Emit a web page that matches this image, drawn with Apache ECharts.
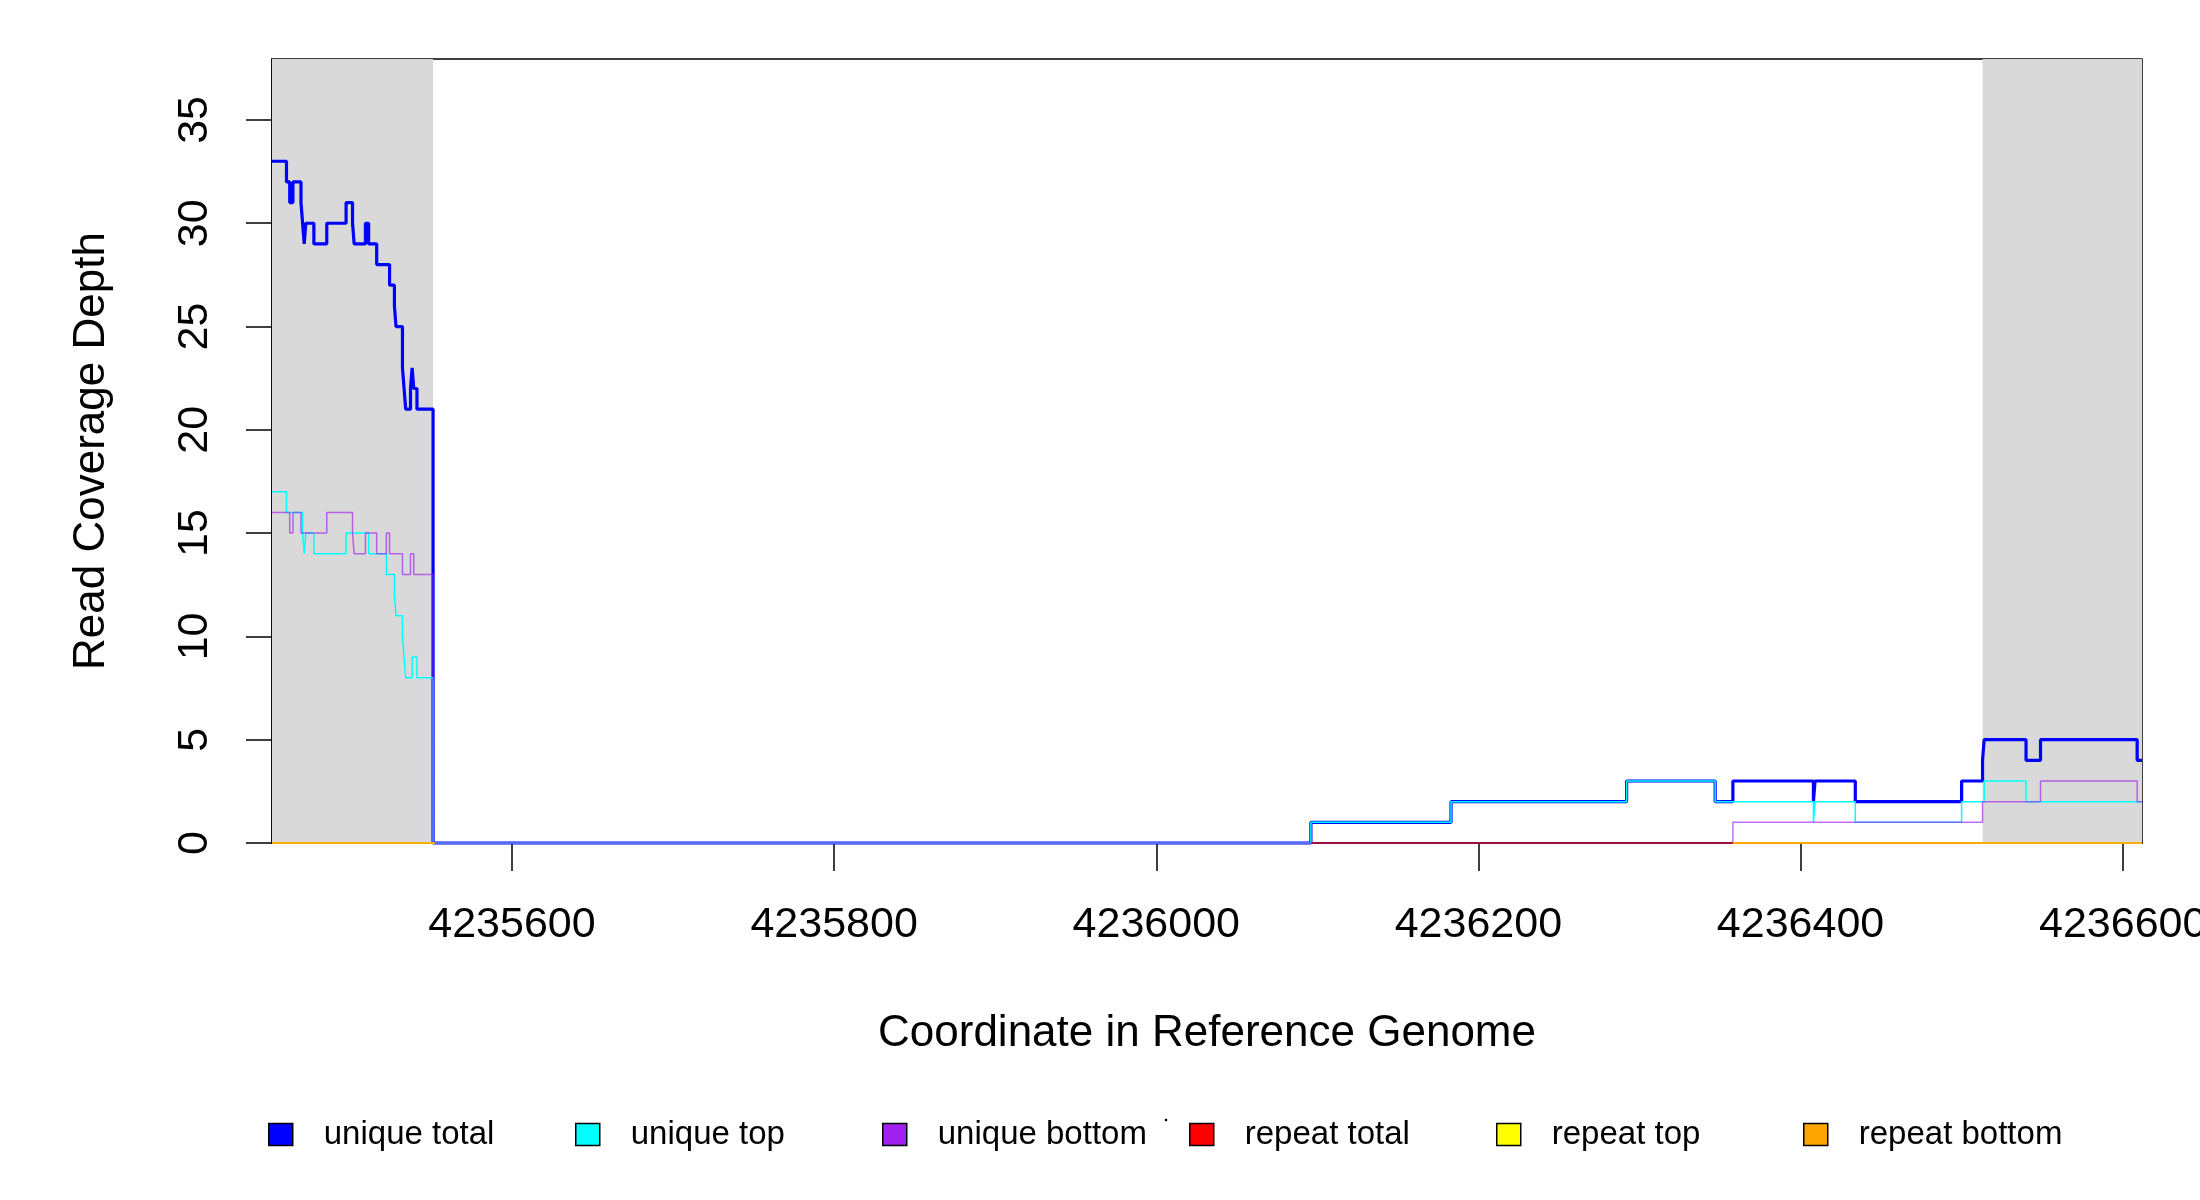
<!DOCTYPE html>
<html>
<head>
<meta charset="utf-8">
<script src="https://cdn.jsdelivr.net/npm/echarts@6/dist/echarts.min.js"></script>
<style>
html, body { margin: 0; padding: 0; background: #fff; }
#chart { width: 2200px; height: 1200px; }
</style>
</head>
<body>
<div id="chart"></div>
<script>
// axis ranges and ticks
var xMin = 4235451;
var xMax = 4236612;
var yMax = 37.95;
var xTicks = [4235600, 4235800, 4236000, 4236200, 4236400, 4236600];
var yTicks = [0, 5, 10, 15, 20, 25, 30, 35];

// shaded flanks
var flankLeft = [4235451, 4235551];
var flankRight = [4236513, 4236612];

// step change points: position where the depth starts, and the depth
var uniqueTotalPos = [4235451, 4235460, 4235462, 4235464, 4235469, 4235470, 4235471, 4235472, 4235477, 4235485,
	4235497, 4235501, 4235502, 4235509, 4235511, 4235516, 4235524, 4235527, 4235528,
	4235532, 4235533, 4235534, 4235537, 4235538, 4235539, 4235541, 4235551, 4236096, 4236183,
	4236292, 4236347, 4236358, 4236408, 4236409, 4236434, 4236500, 4236513, 4236514, 4236540,
	4236549, 4236609, 4236612];
var uniqueTotalVal = [33, 32, 31, 32, 31, 30, 29, 30, 29, 30,
	31, 30, 29, 30, 29, 28, 27, 26, 25,
	23, 22, 21, 22, 23, 22, 21, 0, 1, 2,
	3, 2, 3, 2, 3, 2, 3, 4, 5, 4,
	5, 4, 4];

var uniqueTopPos = [4235451, 4235460, 4235470, 4235471, 4235472, 4235477, 4235497, 4235511, 4235522, 4235527,
	4235528, 4235532, 4235533, 4235534, 4235538, 4235541, 4235551, 4236096, 4236183, 4236292,
	4236347, 4236408, 4236409, 4236434, 4236500, 4236514, 4236540, 4236612];
var uniqueTopVal = [17, 16, 15, 14, 15, 14, 15, 14, 13, 12,
	11, 10, 9, 8, 9, 8, 0, 1, 2, 3,
	2, 1, 2, 1, 2, 3, 2, 2];

var uniqueBottomPos = [4235451, 4235462, 4235464, 4235469, 4235485, 4235501, 4235502, 4235509, 4235516, 4235522,
	4235524, 4235532, 4235537, 4235539, 4235551, 4236358, 4236513, 4236549, 4236609, 4236612];
var uniqueBottomVal = [16, 15, 16, 15, 16, 15, 14, 15, 14, 15,
	14, 13, 14, 13, 0, 1, 2, 3, 2, 2];

// repeat coverage is zero where it is drawn; null marks a gap
var repeatTotalPos = [4235451, 4235551, 4235552, 4236096, 4236612];
var repeatTotalVal = [0, 0, null, 0, 0];
var repeatTopPos = [4235451, 4235551, 4235552, 4236358, 4236612];
var repeatTopVal = [0, 0, null, 0, 0];
var repeatBottomPos = [4235451, 4235551, 4235552, 4236358, 4236612];
var repeatBottomVal = [0, 0, null, 0, 0];

var seriesNames = ['unique total', 'unique top', 'unique bottom', 'repeat total', 'repeat top', 'repeat bottom'];
var seriesColors = ['#0000ff', '#00ffff', '#a020f0', '#ff0000', '#ffff00', '#ffa500'];

function toSteps(pos, val) {
	return pos.map(function(p, i) {
		return val[i] === null ? [p, '-'] : [p, val[i]];
	});
}

var font = 'Liberation Sans, Arial, Helvetica, sans-serif';
var myChart = echarts.init(document.getElementById('chart'));

function lineSeries(idx, data, width, opacity) {
	return {
		name: seriesNames[idx],
		type: 'line',
		step: 'end',
		data: data,
		color: seriesColors[idx],
		showSymbol: false,
		symbol: 'none',
		clip: false,
		z: 3 + idx,
		lineStyle: { color: seriesColors[idx], width: width, opacity: opacity },
		emphasis: { disabled: true }
	};
}

var legends = seriesNames.map(function(name, i) {
	return {
		left: 268 + i * 307,
		top: 1118,
		padding: 0,
		icon: 'rect',
		itemWidth: 24,
		itemHeight: 22,
		selectedMode: false,
		data: [name],
		itemStyle: { borderColor: '#000', borderWidth: 1.5 },
		textStyle: { fontSize: 33, fontFamily: font, color: '#000', padding: [0, 0, 0, 26] }
	};
});

var option = {
	animation: false,
	backgroundColor: '#fff',
	grid: {
		left: 272,
		right: 58,
		top: 59,
		bottom: 357,
		outerBoundsMode: 'none',
		containLabel: false,
		show: true,
		borderColor: '#000',
		borderWidth: 1.5,
		backgroundColor: 'transparent'
	},
	legend: legends,
	xAxis: {
		type: 'value',
		min: xMin,
		max: xMax,
		name: 'Coordinate in Reference Genome',
		nameLocation: 'middle',
		nameGap: 169,
		nameTextStyle: { fontSize: 44, fontFamily: font, color: '#000' },
		axisLine: { show: true, onZero: false, lineStyle: { color: '#000', width: 1.5 } },
		axisTick: { show: true, length: 28, customValues: xTicks, lineStyle: { color: '#000', width: 1.5 } },
		axisLabel: {
			customValues: xTicks, fontSize: 43, fontFamily: font, color: '#000', margin: 61,
			formatter: function(v) { return String(v); }
		},
		splitLine: { show: false }
	},
	yAxis: {
		type: 'value',
		min: 0,
		max: yMax,
		name: 'Read Coverage Depth',
		nameLocation: 'middle',
		nameGap: 158,
		nameTextStyle: { fontSize: 44, fontFamily: font, color: '#000' },
		axisLine: { show: true, lineStyle: { color: '#000', width: 1.5 } },
		axisTick: { show: true, length: 26, customValues: yTicks, lineStyle: { color: '#000', width: 1.5 } },
		axisLabel: {
			customValues: yTicks, rotate: 90, fontSize: 43, fontFamily: font, color: '#000', margin: 55,
			formatter: function(v) { return String(v); }
		},
		splitLine: { show: false }
	},
	graphic: [{
		type: 'circle',
		shape: { cx: 1166, cy: 1120, r: 1.3 },
		style: { fill: '#000' }
	}],
	series: [
		{
			type: 'line',
			data: [],
			z: 1,
			silent: true,
			markArea: {
				silent: true,
				itemStyle: { color: '#d9d9d9' },
				data: [
					[{ xAxis: flankLeft[0] }, { xAxis: flankLeft[1] }],
					[{ xAxis: flankRight[0] }, { xAxis: flankRight[1] }]
				]
			}
		},
		lineSeries(0, toSteps(uniqueTotalPos, uniqueTotalVal), 3.2, 1),
		lineSeries(1, toSteps(uniqueTopPos, uniqueTopVal), 1.5, 1),
		lineSeries(2, toSteps(uniqueBottomPos, uniqueBottomVal), 1.5, 0.65),
		lineSeries(3, toSteps(repeatTotalPos, repeatTotalVal), 1.5, 0.6),
		lineSeries(4, toSteps(repeatTopPos, repeatTopVal), 1.5, 1),
		lineSeries(5, toSteps(repeatBottomPos, repeatBottomVal), 1.5, 1)
	]
};
myChart.setOption(option);
</script>
</body>
</html>
